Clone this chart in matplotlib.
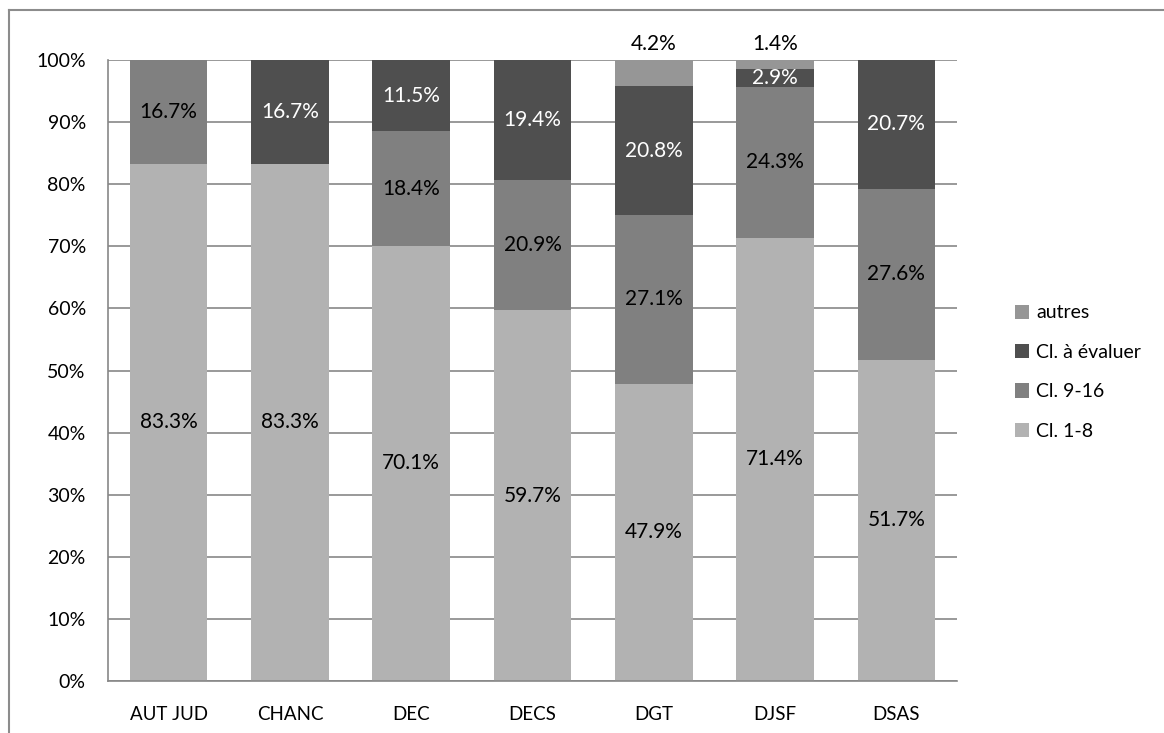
import matplotlib
matplotlib.use("Agg")
import matplotlib.pyplot as plt
from matplotlib.patches import Patch
from matplotlib.lines import Line2D
import numpy as np

plt.rcParams['font.family'] = ['Lato', 'DejaVu Sans']

categories = ["AUT JUD", "CHANC", "DEC", "DECS", "DGT", "DJSF", "DSAS"]
cl_1_8 = [83.3, 83.3, 70.1, 59.7, 47.9, 71.4, 51.7]
cl_9_16 = [16.7, 0.0, 18.4, 20.9, 27.1, 24.3, 27.6]
cl_a_evaluer = [0.0, 16.7, 11.5, 19.4, 20.8, 2.9, 20.7]
autres = [0.0, 0.0, 0.0, 0.0, 4.2, 1.4, 0.0]

series = [
    ("Cl. 1-8", cl_1_8, "#b2b2b2", "black"),
    ("Cl. 9-16", cl_9_16, "#808080", "black"),
    ("Cl. à évaluer", cl_a_evaluer, "#4f4f4f", "white"),
    ("autres", autres, "#969696", "black"),
]

fig = plt.figure(figsize=(11.64, 7.33), dpi=100)
ax = fig.add_axes([108 / 1164, 1 - 681 / 733, (957 - 108) / 1164, (681 - 60) / 733])

x = np.arange(len(categories))
width = 0.64
bottom = np.zeros(len(categories))
for name, vals, color, tcolor in series:
    vals = np.array(vals)
    ax.bar(x, vals, width, bottom=bottom, color=color, label=name, zorder=2)
    for i, v in enumerate(vals):
        if v <= 0:
            continue
        if name == "autres":
            ax.text(x[i], 101.0, f"{v:.1f}%", ha="center", va="bottom",
                    fontsize=15, color="black", clip_on=False)
        else:
            ax.text(x[i], bottom[i] + v / 2, f"{v:.1f}%", ha="center", va="center",
                    fontsize=15, color=tcolor)
    bottom += vals

ax.set_xlim(-0.5, len(categories) - 0.5)
ax.set_ylim(0, 100)
ax.set_yticks(np.arange(0, 101, 10))
ax.set_yticklabels([f"{t}%" for t in range(0, 101, 10)], fontsize=14)
ax.set_xticks(x)
ax.set_xticklabels(categories, fontsize=13.5)
ax.tick_params(axis="both", length=0)
ax.tick_params(axis="y", pad=16)
ax.tick_params(axis="x", pad=18)
ax.grid(axis="y", color="#878787", linewidth=1.2, zorder=1)
ax.set_axisbelow(True)
for s in ["top", "right"]:
    ax.spines[s].set_visible(False)
for s in ["left", "bottom"]:
    ax.spines[s].set_color("#878787")
    ax.spines[s].set_linewidth(1.2)

handles = [Patch(facecolor=c, label=n) for n, _, c, _ in reversed(series)]
fig.legend(handles=handles, loc="center left", bbox_to_anchor=(997 / 1164, 1 - 372 / 733),
           frameon=False, fontsize=14, handlelength=0.75, handleheight=0.75,
           handletextpad=0.35, labelspacing=1.15)

# outer chart frame (top and left edges)
fig.add_artist(Line2D([9 / 1164, 1.0], [1 - 10 / 733, 1 - 10 / 733], color="#8c8c8c", linewidth=1.5))
fig.add_artist(Line2D([9 / 1164, 9 / 1164], [0.0, 1 - 10 / 733], color="#8c8c8c", linewidth=1.5))

fig.savefig("out.png", dpi=100, facecolor="white")
